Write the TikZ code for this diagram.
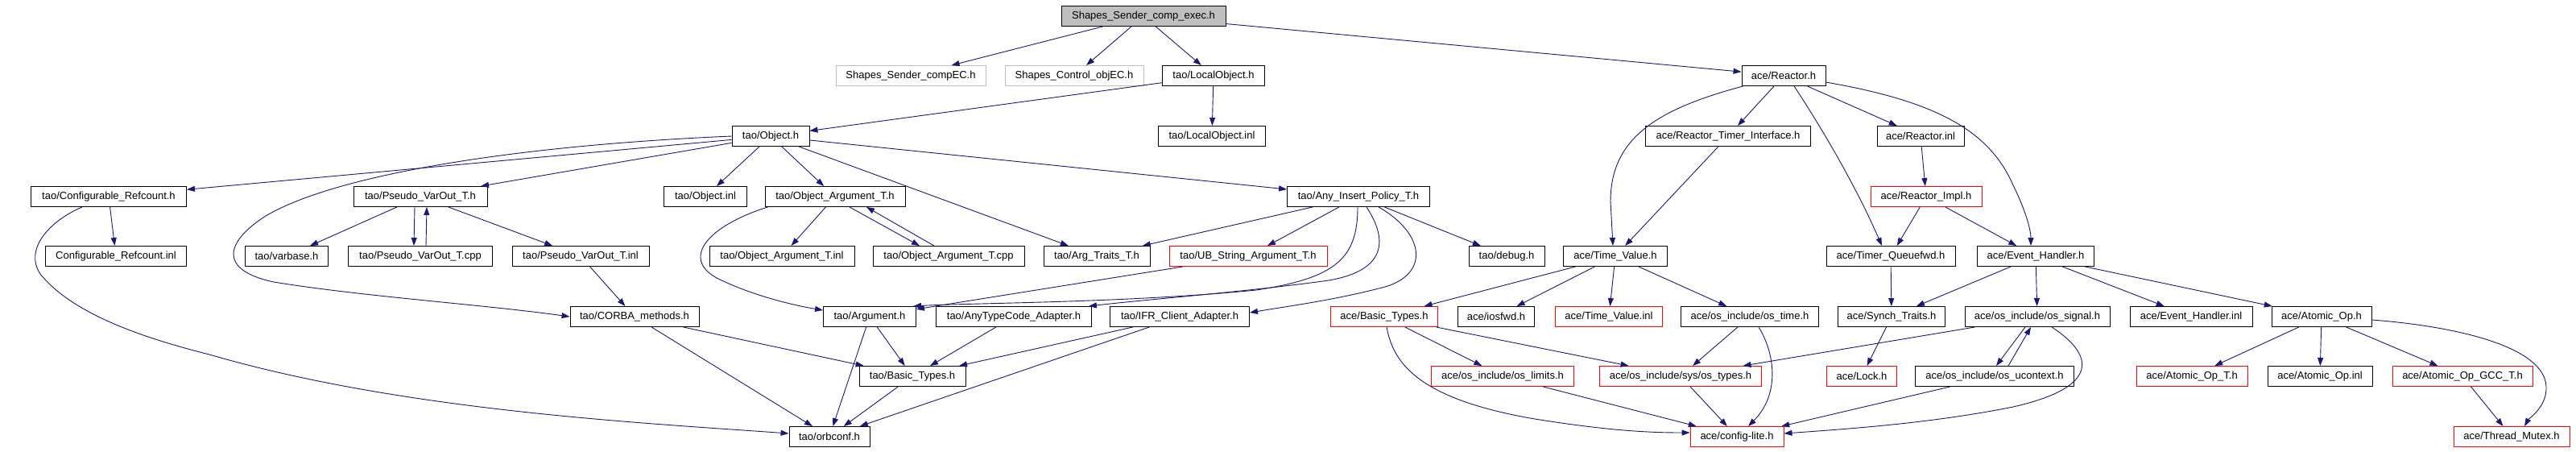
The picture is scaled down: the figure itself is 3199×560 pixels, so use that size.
\documentclass[tikz,border=0pt]{standalone}
\usepackage{fontspec}
\setmainfont{Liberation Sans}
\usetikzlibrary{arrows.meta}
\definecolor{edgec}{HTML}{191970}
\definecolor{grayc}{HTML}{BFBFBF}
\definecolor{redc}{HTML}{FF0000}
\begin{document}
\begin{tikzpicture}[x=1pt,y=-1pt,
  box/.style={draw=black,line width=0.9pt,fill=white,inner sep=0pt,minimum height=25pt,font=\fontsize{13}{15}\selectfont},
  redbox/.style={box,draw=redc},
  graybox/.style={box,draw=grayc},
  topbox/.style={box,fill=grayc},
  edge/.style={draw=edgec,line width=0.9pt,-{Triangle[length=10pt,width=7pt]}}]
\useasboundingbox[fill=white] (0,0) rectangle (3199,560);
% row 0
\node[topbox,minimum width=204pt] (top) at (1420,20) {Shapes\_Sender\_comp\_exec.h};
% row 1
\node[graybox,minimum width=186pt] (sscEC) at (1131,94) {Shapes\_Sender\_compEC.h};
\node[graybox,minimum width=172pt] (scoEC) at (1334,94) {Shapes\_Control\_objEC.h};
\node[box,minimum width=127pt] (lobj) at (1507,94) {tao/LocalObject.h};
\node[box,minimum width=104pt] (reactor) at (2215,94) {ace/Reactor.h};
% row 2
\node[box,minimum width=96pt] (object) at (957,169) {tao/Object.h};
\node[box,minimum width=133pt] (lobjinl) at (1505,169) {tao/LocalObject.inl};
\node[box,minimum width=205pt] (rti) at (2146,169) {ace/Reactor\_Timer\_Interface.h};
\node[box,minimum width=108pt] (reactorinl) at (2385,169) {ace/Reactor.inl};
% row 3
\node[box,minimum width=193pt] (cref) at (135,244) {tao/Configurable\_Refcount.h};
\node[box,minimum width=166pt] (pvo) at (522,244) {tao/Pseudo\_VarOut\_T.h};
\node[box,minimum width=103pt] (objinl) at (876,244) {tao/Object.inl};
\node[box,minimum width=174pt] (oat) at (1037,244) {tao/Object\_Argument\_T.h};
\node[box,minimum width=177pt] (aip) at (1687,244) {tao/Any\_Insert\_Policy\_T.h};
\node[redbox,minimum width=138pt] (rimpl) at (2392,244) {ace/Reactor\_Impl.h};
% row 4
\node[box,minimum width=175pt] (crefinl) at (144,318) {Configurable\_Refcount.inl};
\node[box,minimum width=103pt] (varbase) at (356,318) {tao/varbase.h};
\node[box,minimum width=179pt] (pvocpp) at (522,318) {tao/Pseudo\_VarOut\_T.cpp};
\node[box,minimum width=170pt] (pvoinl) at (721,318) {tao/Pseudo\_VarOut\_T.inl};
\node[box,minimum width=180pt] (oatinl) at (971,318) {tao/Object\_Argument\_T.inl};
\node[box,minimum width=188pt] (oatcpp) at (1178,318) {tao/Object\_Argument\_T.cpp};
\node[box,minimum width=132pt] (argtraits) at (1362,318) {tao/Arg\_Traits\_T.h};
\node[redbox,minimum width=196pt] (ubstr) at (1550,318) {tao/UB\_String\_Argument\_T.h};
\node[box,minimum width=94pt] (debug) at (1871,318) {tao/debug.h};
\node[box,minimum width=129pt] (tv) at (2006,318) {ace/Time\_Value.h};
\node[box,minimum width=160pt] (tqf) at (2348,318) {ace/Timer\_Queuefwd.h};
\node[box,minimum width=145pt] (eh) at (2528,318) {ace/Event\_Handler.h};
% row 5
\node[box,minimum width=160pt] (corba) at (788,393) {tao/CORBA\_methods.h};
\node[box,minimum width=115pt] (argument) at (1080,393) {tao/Argument.h};
\node[box,minimum width=193pt] (atc) at (1259,393) {tao/AnyTypeCode\_Adapter.h};
\node[box,minimum width=173pt] (ifr) at (1465,393) {tao/IFR\_Client\_Adapter.h};
\node[redbox,minimum width=133pt] (abt) at (1719,393) {ace/Basic\_Types.h};
\node[box,minimum width=95pt] (iosfwd) at (1858,393) {ace/iosfwd.h};
\node[redbox,minimum width=133pt] (tvinl) at (1998,393) {ace/Time\_Value.inl};
\node[box,minimum width=171pt] (ostime) at (2173,393) {ace/os\_include/os\_time.h};
\node[box,minimum width=133pt] (synch) at (2349,393) {ace/Synch\_Traits.h};
\node[box,minimum width=180pt] (ossignal) at (2530,393) {ace/os\_include/os\_signal.h};
\node[box,minimum width=152pt] (ehinl) at (2721,393) {ace/Event\_Handler.inl};
\node[box,minimum width=124pt] (aop) at (2883,393) {ace/Atomic\_Op.h};
% row 6
\node[box,minimum width=132pt] (tbt) at (1133,467) {tao/Basic\_Types.h};
\node[redbox,minimum width=177pt] (oslimits) at (1866,467) {ace/os\_include/os\_limits.h};
\node[redbox,minimum width=201pt] (ostypes) at (2087,467) {ace/os\_include/sys/os\_types.h};
\node[redbox,minimum width=87pt] (lock) at (2312,467) {ace/Lock.h};
\node[box,minimum width=197pt] (osuctx) at (2477,467) {ace/os\_include/os\_ucontext.h};
\node[redbox,minimum width=138pt] (aopt) at (2722,467) {ace/Atomic\_Op\_T.h};
\node[box,minimum width=130pt] (aopinl) at (2881,467) {ace/Atomic\_Op.inl};
\node[redbox,minimum width=174pt] (aopgcc) at (3058,467) {ace/Atomic\_Op\_GCC\_T.h};
% row 7
\node[box,minimum width=100pt] (orbconf) at (1030,542) {tao/orbconf.h};
\node[redbox,minimum width=116pt] (config) at (2157,542) {ace/config-lite.h};
\node[redbox,minimum width=144pt] (tmutex) at (3119,542) {ace/Thread\_Mutex.h};

% edges: top
\draw[edge] (top) -- (sscEC);
\draw[edge] (top) -- (scoEC);
\draw[edge] (top) -- (lobj);
\draw[edge] (top) -- (reactor);
\draw[edge] (lobj) -- (object);
\draw[edge] (lobj) -- (lobjinl);
% Object.h
\draw[edge] (object) -- (cref);
\draw[edge] (object.west) .. controls (650,180) and (420,215) .. (330,268) .. controls (280,300) and (270,335) .. (340,350) .. controls (450,368) and (600,378) .. (corba.west);
\draw[edge] (object) -- (pvo);
\draw[edge] (object) -- (objinl);
\draw[edge] (object) -- (oat);
\draw[edge] (object) -- (argtraits);
\draw[edge] (object) -- (aip);
% Configurable_Refcount
\draw[edge] (cref) -- (crefinl);
\draw[edge] ([xshift=-33pt]cref.south) .. controls (60,275) and (30,310) .. (50,340) .. controls (90,390) and (180,420) .. (260,440) .. controls (500,510) and (800,525) .. ([yshift=4pt]orbconf.west);
% Pseudo_VarOut
\draw[edge] (pvo) -- (varbase);
\draw[edge] ([xshift=-7pt]pvo.south) -- ([xshift=-8pt]pvocpp.north);
\draw[edge] ([xshift=7pt]pvocpp.north) -- ([xshift=8pt]pvo.south);
\draw[edge] (pvo) -- (pvoinl);
\draw[edge] (pvoinl) -- (corba);
% Object_Argument_T
\draw[edge] (oat) -- (oatinl);
\draw[edge] ([xshift=18pt]oat.south) -- ([xshift=-36pt]oatcpp.north);
\draw[edge] ([xshift=-18pt]oatcpp.north) -- ([xshift=39pt]oat.south);
\draw[edge] ([xshift=4pt]oat.south west) .. controls (880,280) and (845,320) .. (890,345) .. controls (930,365) and (980,378) .. ([yshift=8pt]argument.west);
% Any_Insert_Policy_T
\draw[edge] (aip) -- (argtraits);
\draw[edge] (aip) -- (ubstr);
\draw[edge] (aip) -- (debug);
\draw[edge] ([xshift=-1pt]aip.south) .. controls (1686,320) and (1660,345) .. (1560,360) .. controls (1400,376) and (1200,376) .. ([xshift=-4pt]argument.north east);
\draw[edge] ([xshift=10pt]aip.south) .. controls (1722,295) and (1725,335) .. (1650,348) .. controls (1550,362) and (1420,372) .. ([xshift=-4pt]atc.north east);
\draw[edge] ([xshift=25pt]aip.south) .. controls (1770,290) and (1775,340) .. (1720,356) .. controls (1660,372) and (1600,380) .. ([yshift=5pt]ifr.east);
\draw[edge] (ubstr) -- (argument);
% tao lower
\draw[edge] (corba) -- (tbt);
\draw[edge] (corba) -- (orbconf);
\draw[edge] (argument) -- (tbt);
\draw[edge] (argument) -- (orbconf);
\draw[edge] (atc) -- (tbt);
\draw[edge] (ifr) -- (tbt);
\draw[edge] (ifr) -- (orbconf);
\draw[edge] (tbt) -- (orbconf);
% Reactor
\draw[edge] ([xshift=2pt]reactor.south west) .. controls (2060,135) and (2000,170) .. (2000,250) -- ([xshift=-3pt]tv.north);
\draw[edge] (reactor) -- (rti);
\draw[edge] ([xshift=13pt]reactor.south) .. controls (2250,140) and (2300,220) .. ([xshift=-11pt]tqf.north);
\draw[edge] (reactor) -- (reactorinl);
\draw[edge] ([yshift=-8pt]reactor.east) .. controls (2400,125) and (2470,160) .. (2500,230) .. controls (2515,260) and (2522,285) .. ([xshift=-6pt]eh.north);
\draw[edge] (rti) -- (tv);
\draw[edge] (reactorinl) -- (rimpl);
\draw[edge] (rimpl) -- (tqf);
\draw[edge] (rimpl) -- (eh);
% Time_Value
\draw[edge] (tv) -- (abt);
\draw[edge] (tv) -- (iosfwd);
\draw[edge] (tv) -- (tvinl);
\draw[edge] (tv) -- (ostime);
\draw[edge] (abt) -- (oslimits);
\draw[edge] (abt) -- (ostypes);
\draw[edge] ([xshift=3pt]abt.south) .. controls (1730,450) and (1760,495) .. (1906,520) .. controls (2000,535) and (2050,537) .. ([yshift=5pt]config.west);
\draw[edge] (ostime) -- (ostypes);
\draw[edge] ([xshift=11pt]ostime.south) .. controls (2205,440) and (2210,490) .. ([xshift=14pt]config.north);
\draw[edge] (oslimits) -- (config);
\draw[edge] (ostypes) -- (config);
% Timer / Synch
\draw[edge] (tqf) -- (synch);
\draw[edge] (synch) -- (lock);
% Event_Handler
\draw[edge] (eh) -- (synch);
\draw[edge] (eh) -- (ossignal);
\draw[edge] (eh) -- (ehinl);
\draw[edge] (eh) -- (aop);
\draw[edge] (ossignal) -- (ostypes);
\draw[edge] ([xshift=-15pt]ossignal.south) -- ([xshift=2pt]osuctx.north);
\draw[edge] ([xshift=17pt]osuctx.north) -- ([xshift=-8pt]ossignal.south);
\draw[edge] ([xshift=18pt]ossignal.south) .. controls (2600,440) and (2610,480) .. (2500,505) .. controls (2400,525) and (2300,532) .. ([yshift=4pt]config.east);
\draw[edge] (osuctx) -- (config);
% Atomic_Op
\draw[edge] (aop) -- (aopt);
\draw[edge] (aop) -- (aopinl);
\draw[edge] (aop) -- (aopgcc);
\draw[edge] ([yshift=-4pt]aop.east) .. controls (3050,405) and (3160,430) .. (3162,480) .. controls (3163,505) and (3140,520) .. ([xshift=16pt]tmutex.north);
\draw[edge] (aopgcc) -- (tmutex);
\end{tikzpicture}
\end{document}
